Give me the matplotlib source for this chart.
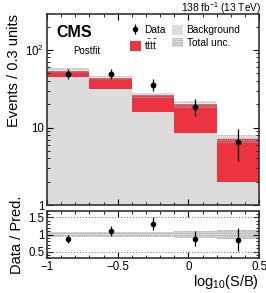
import matplotlib.pyplot as plt
from matplotlib.patches import Patch
from matplotlib.ticker import FixedLocator, MultipleLocator
import numpy as np

plt.rcParams['font.family'] = 'Liberation Sans'
plt.rcParams['mathtext.fontset'] = 'custom'
plt.rcParams['mathtext.rm'] = 'Liberation Sans'
plt.rcParams['mathtext.it'] = 'Liberation Sans:italic'

# bin edges in log10(S/B)
edges = [-1.0, -0.7, -0.4, -0.1, 0.2, 0.5]
centers = [-0.85, -0.55, -0.25, 0.05, 0.35]

# postfit yields
background = [44.7, 31.3, 15.9, 8.55, 2.0]
tttt = [9.3, 12.7, 10.1, 11.4, 5.2]
unc_rel = [0.07, 0.06, 0.07, 0.10, 0.12]

# observed data
data = [49.2, 49.2, 35.2, 18.2, 6.5]
data_err_lo = [7.0, 7.0, 5.9, 4.2, 2.8]
data_err_hi = [7.6, 7.6, 6.6, 5.0, 3.1]

# ratio panel
ratio = [0.88, 1.10, 1.32, 0.87, 0.85]
ratio_err = [0.12, 0.14, 0.19, 0.22, 0.34]

red = '#ec3341'
grey = '#dcdcdc'

fig = plt.figure(figsize=(2.66, 2.93), dpi=100)
ax = fig.add_axes([0.177, 0.300, 0.797, 0.652])
rax = fig.add_axes([0.177, 0.118, 0.797, 0.163], sharex=ax)

total = [b + s for b, s in zip(background, tttt)]
width = np.diff(edges)

ax.bar(edges[:-1], background, width=width, align='edge', color=grey, bottom=0.01, lw=0)
ax.bar(edges[:-1], tttt, width=width, align='edge', color=red, bottom=background, lw=0)
for i in range(5):
    lo = total[i] * (1 - unc_rel[i])
    hi = total[i] * (1 + unc_rel[i])
    ax.fill_between([edges[i], edges[i + 1]], lo, hi, facecolor='none',
                    edgecolor='#a0a0a0', hatch='.......', lw=0)
ax.errorbar(centers, data, yerr=[data_err_lo, data_err_hi], fmt='o', color='black',
            ms=3.2, elinewidth=0.9, capsize=0)

ax.set_yscale('log')
ax.set_ylim(1, 290)
ax.set_xlim(-1, 0.5)
ax.set_ylabel('Events / 0.3 units', fontsize=10.5, labelpad=3, loc='top')
ax.yaxis.set_major_locator(FixedLocator([1, 10, 100]))
ax.set_yticklabels(['1', '10', r'$10^2$'])

ax.text(0.045, 0.945, 'CMS', transform=ax.transAxes, fontsize=11.5, fontweight='bold', va='top')
ax.text(0.125, 0.835, 'Postfit', transform=ax.transAxes, fontsize=7, va='top')
ax.text(1.01, 1.012, r'138 fb$^{-1}$ (13 TeV)', transform=ax.transAxes, fontsize=7.3,
        ha='right', va='baseline')

# legend: columns fill first, so order is Data, tttt | Background, Total unc.
handles = [
    ax.errorbar([], [], yerr=[], fmt='o', color='black', ms=3, elinewidth=0.9),
    Patch(facecolor=red, edgecolor='none'),
    Patch(facecolor=grey, edgecolor='none'),
    Patch(facecolor='#eeeeee', edgecolor='#a0a0a0', hatch='.......', lw=0),
]
labels = ['Data', r'$\mathrm{t\bar{t}t\bar{t}}$', 'Background', 'Total unc.']
ax.legend(handles, labels, ncol=2, loc='upper left', bbox_to_anchor=(0.37, 0.965), frameon=False,
          fontsize=7.3, handlelength=1.1, handleheight=1.1, columnspacing=0.6, labelspacing=0.25,
          handletextpad=0.35, borderaxespad=0)

# ratio panel
for i in range(5):
    rax.fill_between([edges[i], edges[i + 1]], 1 - unc_rel[i], 1 + unc_rel[i],
                     facecolor='#e6e6e6', edgecolor='#a0a0a0', hatch='.......', lw=0)
for yv in [0.5, 1.5]:
    rax.axhline(yv, color='#808080', ls=':', lw=0.8)
rax.errorbar(centers, ratio, yerr=ratio_err, fmt='o', color='black', ms=3, elinewidth=0.9, capsize=0)
rax.set_ylim(0.3, 1.7)
rax.set_yticks([0.5, 1, 1.5])
rax.set_yticklabels(['0.5', '1', '1.5'])
rax.set_ylabel('Data / Pred.', fontsize=10.5, labelpad=3)
rax.set_xlabel(r'log$_{10}$(S/B)', fontsize=10.5, loc='right', labelpad=0)
rax.xaxis.set_minor_locator(MultipleLocator(0.1))
rax.yaxis.set_minor_locator(MultipleLocator(0.1))
rax.set_xticks([-1, -0.5, 0, 0.5])
rax.set_xticklabels(['\u22121', '\u22120.5', '0', '0.5'])
plt.setp(ax.get_xticklabels(), visible=False)

for a in (ax, rax):
    a.tick_params(which='both', direction='in', top=True, right=True, labelsize=8.3, pad=2)
    a.tick_params(which='major', length=4)
    a.tick_params(which='minor', length=2)
    for s in a.spines.values():
        s.set_linewidth(1.2)
        s.set_color('#333333')

fig.savefig('out.png', dpi=100)
